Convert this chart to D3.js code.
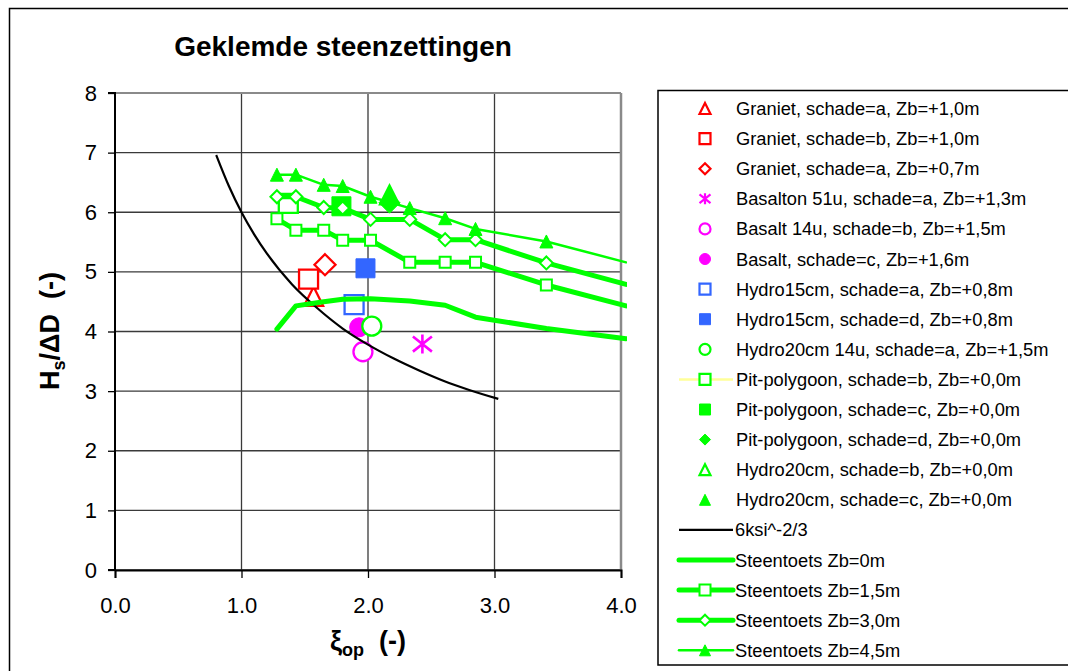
<!DOCTYPE html>
<html>
<head>
<meta charset="utf-8">
<script src="https://cdn.jsdelivr.net/npm/d3@7"></script>
<style>
  html, body { margin: 0; padding: 0; background: #fff; }
  svg { display: block; font-family: "Liberation Sans", Arial, sans-serif; }
</style>
</head>
<body>
<svg id="chart" width="1068" height="671"></svg>
<script>
// ---------- data ----------
const xTicks = [0, 1, 2, 3, 4];
const yTicks = [0, 1, 2, 3, 4, 5, 6, 7, 8];

// measured points [xi_op, Hs/dD]
const granietA10   = [[1.57, 4.59]];
const granietB10   = [[1.53, 4.88]];
const granietA07   = [[1.66, 5.12]];
const basalton51u  = [[2.43, 3.79]];
const basalt14u    = [[1.96, 3.66]];
const basaltC      = [[1.93, 4.07]];
const hydro15A     = [[1.89, 4.45]];
const hydro15D     = [[1.98, 5.06]];
const hydro20_14uA = [[2.03, 4.09]];
const pitB         = [[1.37, 6.15]];
const pitC         = [[1.79, 6.10]];
const pitD         = [[2.17, 6.16]];
const hydro20B     = [[2.17, 6.29]];
const hydro20C     = [[2.17, 6.29]];

// 6 ksi^-2/3 curve
const ksiX = [0.80, 0.90, 1.00, 1.10, 1.20, 1.40, 1.60, 1.80, 2.00, 2.20, 2.40, 2.60, 2.80, 3.03];
const ksiY = [6.96, 6.44, 6.00, 5.63, 5.31, 4.79, 4.39, 4.05, 3.78, 3.55, 3.35, 3.17, 3.02, 2.87];

// Steentoets computations
const stX   = [1.28, 1.43, 1.65, 1.80, 2.02, 2.33, 2.61, 2.85, 3.41, 4.04];
const st00  = [4.04, 4.43, 4.50, 4.54, 4.55, 4.51, 4.44, 4.24, 4.05, 3.88];
const st15  = [5.89, 5.70, 5.70, 5.53, 5.53, 5.16, 5.16, 5.16, 4.78, 4.43];
const st30  = [6.26, 6.26, 6.08, 6.07, 5.88, 5.88, 5.54, 5.54, 5.15, 4.79];
const st45  = [6.63, 6.63, 6.46, 6.44, 6.26, 6.07, 5.90, 5.72, 5.51, 5.16];

const legendLabels = [
  "Graniet, schade=a, Zb=+1,0m",
  "Graniet, schade=b, Zb=+1,0m",
  "Graniet, schade=a, Zb=+0,7m",
  "Basalton 51u, schade=a, Zb=+1,3m",
  "Basalt 14u, schade=b, Zb=+1,5m",
  "Basalt, schade=c, Zb=+1,6m",
  "Hydro15cm, schade=a, Zb=+0,8m",
  "Hydro15cm, schade=d, Zb=+0,8m",
  "Hydro20cm 14u, schade=a, Zb=+1,5m",
  "Pit-polygoon, schade=b, Zb=+0,0m",
  "Pit-polygoon, schade=c, Zb=+0,0m",
  "Pit-polygoon, schade=d, Zb=+0,0m",
  "Hydro20cm, schade=b, Zb=+0,0m",
  "Hydro20cm, schade=c, Zb=+0,0m",
  "6ksi^-2/3",
  "Steentoets Zb=0m",
  "Steentoets Zb=1,5m",
  "Steentoets Zb=3,0m",
  "Steentoets Zb=4,5m"
];

// ---------- styles ----------
const RED = "#FF0000", MAG = "#FF00FF", BLUE = "#3366FF", GREEN = "#00FF00";

const pointSeries = [
  { data: granietA10,   shape: "triangle", color: RED,   filled: false },
  { data: granietB10,   shape: "square",   color: RED,   filled: false },
  { data: granietA07,   shape: "diamond",  color: RED,   filled: false },
  { data: basalton51u,  shape: "asterisk", color: MAG,   filled: false },
  { data: basalt14u,    shape: "circle",   color: MAG,   filled: false },
  { data: basaltC,      shape: "circle",   color: MAG,   filled: true  },
  { data: hydro15A,     shape: "square",   color: BLUE,  filled: false },
  { data: hydro15D,     shape: "square",   color: BLUE,  filled: true  },
  { data: hydro20_14uA, shape: "circle",   color: GREEN, filled: false },
  { data: pitB,         shape: "square",   color: GREEN, filled: false, legendLine: "#FFFF99" },
  { data: pitC,         shape: "square",   color: GREEN, filled: true  },
  { data: pitD,         shape: "diamond",  color: GREEN, filled: true  },
  { data: hydro20B,     shape: "triangle", color: GREEN, filled: false },
  { data: hydro20C,     shape: "triangle", color: GREEN, filled: true  }
];

const steenSeries = [
  { y: st00, width: 5,   shape: null },
  { y: st15, width: 5,   shape: "square",   filled: false },
  { y: st30, width: 5,   shape: "diamond",  filled: false },
  { y: st45, width: 2.5, shape: "triangle", filled: true }
];

// ---------- marker paths ----------
function markerPath(shape, s) {
  const h = s / 2;
  switch (shape) {
    case "square":   return `M${-h},${-h}H${h}V${h}H${-h}Z`;
    case "diamond":  return `M0,${-h}L${h},0L0,${h}L${-h},0Z`;
    case "triangle": return `M0,${-h}L${h},${h}L${-h},${h}Z`;
    case "circle":   return `M${h},0A${h},${h} 0 1,1 ${-h},0A${h},${h} 0 1,1 ${h},0Z`;
    case "asterisk": {
      const d = h, e = h * 0.8;
      return `M0,${-h}V${h}M${-d},${-e}L${d},${e}M${-d},${e}L${d},${-e}`;
    }
  }
}

// ---------- layout ----------
const svg = d3.select("#chart");
const W = 1068, H = 671;
svg.append("rect").attr("width", W).attr("height", H).attr("fill", "#fff");
svg.append("rect").attr("x", 9.5).attr("y", 8.5).attr("width", 1100).attr("height", 700)
  .attr("fill", "none").attr("stroke", "#000").attr("stroke-width", 1.5);

const plot = { left: 115, right: 621, top: 93, bottom: 570 };
const x = d3.scaleLinear().domain([0, 4]).range([plot.left, plot.right]);
const y = d3.scaleLinear().domain([0, 8]).range([plot.bottom, plot.top]);

// gridlines
const grid = svg.append("g");
grid.selectAll("line.h").data(yTicks).join("line")
  .attr("x1", plot.left).attr("x2", plot.right)
  .attr("y1", d => y(d)).attr("y2", d => y(d))
  .attr("stroke", "#3a3a3a").attr("stroke-width", 1.3);
grid.selectAll("line.v").data(xTicks).join("line")
  .attr("y1", plot.top).attr("y2", plot.bottom)
  .attr("x1", d => x(d)).attr("x2", d => x(d))
  .attr("stroke", "#3a3a3a").attr("stroke-width", 1.3);
// right & top plot border (grey)
svg.append("line").attr("x1", plot.right).attr("x2", plot.right).attr("y1", plot.top).attr("y2", plot.bottom)
  .attr("stroke", "#8a8a8a").attr("stroke-width", 2.5);
svg.append("line").attr("x1", plot.left).attr("x2", plot.right).attr("y1", plot.top).attr("y2", plot.top)
  .attr("stroke", "#8a8a8a").attr("stroke-width", 2);

// axes
const yAxis = d3.axisLeft(y).tickValues(yTicks).tickFormat(d3.format("d")).tickSize(7).tickPadding(11);
const xAxis = d3.axisBottom(x).tickValues(xTicks).tickFormat(d3.format(".1f")).tickSize(8).tickPadding(19);
const gy = svg.append("g").attr("transform", `translate(${plot.left},0)`).call(yAxis);
const gx = svg.append("g").attr("transform", `translate(0,${plot.bottom})`).call(xAxis);
[gx, gy].forEach(g => {
  g.select(".domain").attr("stroke", "#000").attr("stroke-width", 2);
  g.selectAll(".tick line").attr("stroke", "#000").attr("stroke-width", 1.3);
  g.selectAll(".tick text").attr("fill", "#000").attr("font-size", 22)
    .attr("font-family", "'Liberation Sans', Arial, sans-serif");
});
gy.select(".domain").attr("d", `M-7,${plot.top}H0V${plot.bottom}H-7`);

// ---------- measured points ----------
const clipId = "plotclip";
svg.append("clipPath").attr("id", clipId).append("rect")
  .attr("x", plot.left - 12).attr("y", plot.top - 12)
  .attr("width", plot.right - plot.left + 18).attr("height", plot.bottom - plot.top + 12);
const marks = svg.append("g").attr("clip-path", `url(#${clipId})`);

pointSeries.forEach(s => {
  const size = s.shape === "diamond" ? 21 : 19;
  marks.append("g").selectAll("path").data(s.data).join("path")
    .attr("transform", d => `translate(${x(d[0])},${y(d[1])})`)
    .attr("d", markerPath(s.shape, size))
    .attr("fill", s.filled ? s.color : (s.shape === "asterisk" ? "none" : "#fff"))
    .attr("stroke", s.color)
    .attr("stroke-width", s.filled ? 1 : (s.shape === "asterisk" ? 2.6 : 2.3))
    .attr("stroke-linejoin", "miter");
});

// 6 ksi^-2/3 curve
const ksiPts = ksiX.map((v, i) => [v, ksiY[i]]);
marks.append("path").datum(ksiPts)
  .attr("d", d3.line().x(d => x(d[0])).y(d => y(d[1])).curve(d3.curveMonotoneX))
  .attr("fill", "none").attr("stroke", "#000").attr("stroke-width", 2.2);

// steentoets lines
const lineGen = d3.line().x(d => x(d[0])).y(d => y(d[1]));
steenSeries.forEach(s => {
  const pts = stX.map((v, i) => [v, s.y[i]]);
  marks.append("path").datum(pts)
    .attr("d", lineGen)
    .attr("fill", "none").attr("stroke", GREEN).attr("stroke-width", s.width)
    .attr("stroke-linejoin", "round").attr("stroke-linecap", "round");
  if (s.shape) {
    const msize = s.shape === "triangle" ? 13 : (s.shape === "diamond" ? 13 : 11);
    marks.append("g").selectAll("path").data(pts.slice(0, pts.length - 1)).join("path")
      .attr("transform", d => `translate(${x(d[0])},${y(d[1])})`)
      .attr("d", markerPath(s.shape, msize))
      .attr("fill", s.filled ? GREEN : "#fff")
      .attr("stroke", GREEN).attr("stroke-width", s.filled ? 1 : 2);
  }
});

// ---------- titles ----------
svg.append("text").attr("x", 343).attr("y", 56).attr("text-anchor", "middle")
  .attr("font-size", 28).attr("font-weight", "bold").text("Geklemde steenzettingen");

const yl = svg.append("text").attr("transform", "translate(59,331) rotate(-90)")
  .attr("text-anchor", "middle").attr("font-size", 27).attr("font-weight", "bold");
yl.append("tspan").text("H");
yl.append("tspan").attr("font-size", 18).attr("dy", 6).text("s");
yl.append("tspan").attr("dy", -6).text("/\u0394D\u00A0\u00A0(-)");

const xl = svg.append("text").attr("x", 368).attr("y", 650).attr("text-anchor", "middle")
  .attr("font-size", 27).attr("font-weight", "bold");
xl.append("tspan").text("\u03BE");
xl.append("tspan").attr("font-size", 18).attr("dy", 6).text("op");
xl.append("tspan").attr("dy", -6).text("\u00A0\u00A0(-)");

// ---------- legend ----------
const lg = svg.append("g");
lg.append("rect").attr("x", 658).attr("y", 90.5).attr("width", 500).attr("height", 574.5)
  .attr("fill", "#fff").attr("stroke", "#000").attr("stroke-width", 1.5);
const rowY = i => 108.5 + i * 30.1;
const mx = 705, lx1 = 679, lx2 = 733;

legendLabels.forEach((lab, i) => {
  const cy = rowY(i);
  const textX = i >= 14 ? 735 : 736;
  if (i < pointSeries.length) {
    const s = pointSeries[i];
    if (s.legendLine) {
      lg.append("line").attr("x1", lx1).attr("x2", lx2).attr("y1", cy).attr("y2", cy)
        .attr("stroke", s.legendLine).attr("stroke-width", 2.5);
    }
    lg.append("path").attr("transform", `translate(${mx},${cy})`)
      .attr("d", markerPath(s.shape, 11))
      .attr("fill", s.filled ? s.color : (s.shape === "asterisk" ? "none" : "#fff"))
      .attr("stroke", s.color).attr("stroke-width", s.filled ? 1 : 2.2);
  } else if (i === 14) {
    lg.append("line").attr("x1", lx1).attr("x2", lx2).attr("y1", cy).attr("y2", cy)
      .attr("stroke", "#000").attr("stroke-width", 2.2);
  } else {
    const s = steenSeries[i - 15];
    lg.append("line").attr("x1", lx1).attr("x2", lx2).attr("y1", cy).attr("y2", cy)
      .attr("stroke", GREEN).attr("stroke-width", s.width).attr("stroke-linecap", "round");
    if (s.shape) {
      lg.append("path").attr("transform", `translate(${mx},${cy})`)
        .attr("d", markerPath(s.shape, 11))
        .attr("fill", s.filled ? GREEN : "#fff")
        .attr("stroke", GREEN).attr("stroke-width", s.filled ? 1 : 2);
    }
  }
  lg.append("text").attr("x", textX).attr("y", cy + 6.5)
    .attr("font-size", 18.3).attr("fill", "#000").text(lab);
});
</script>
</body>
</html>
